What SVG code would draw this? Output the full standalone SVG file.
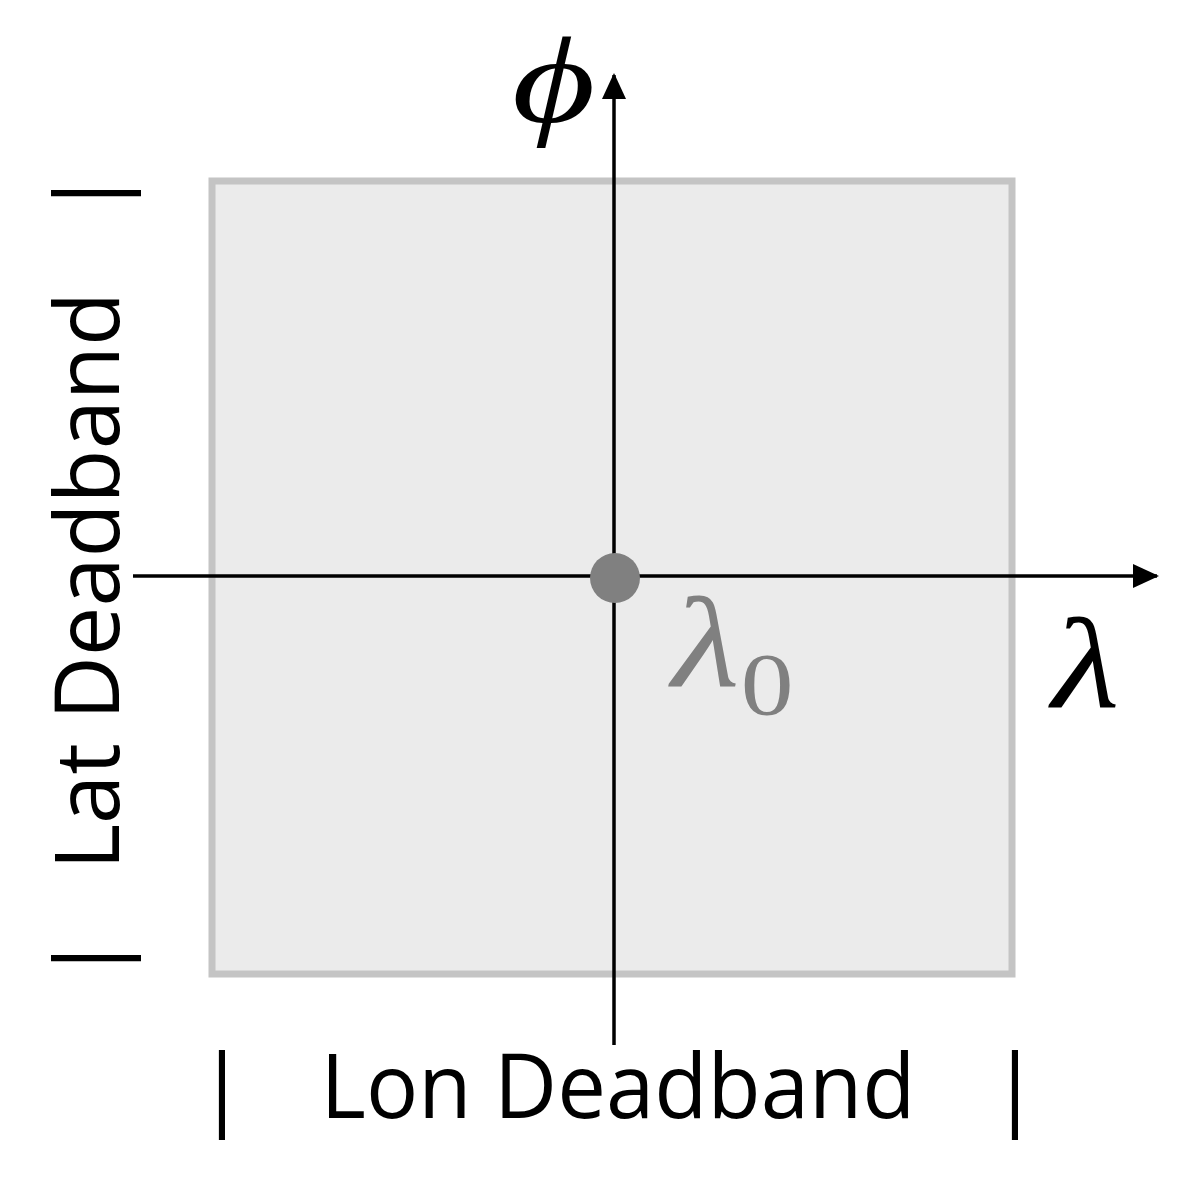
<svg xmlns="http://www.w3.org/2000/svg" width="1177" height="1180" viewBox="0 0 1177 1180">
<style>
.lbl{font-family:"Open Sans","Liberation Sans",sans-serif;font-size:90px;fill:#000}
.math{font-family:"Liberation Serif","DejaVu Serif",serif;font-style:italic}
.ax{stroke:#000;stroke-width:3.5;fill:none}
</style>
<defs>
<marker id="arr" viewBox="0 0 26 24" refX="24" refY="12" markerWidth="26" markerHeight="24" markerUnits="userSpaceOnUse" orient="auto">
<path d="M0,0 L26,12 L0,24 Z" fill="#000"/>
</marker>
</defs>
<g id="box">
<rect x="212" y="181" width="800" height="793" fill="#ebebeb" stroke="#c4c4c4" stroke-width="7"/>
</g>
<g id="connectors">
<line class="ax" x1="614" y1="1045" x2="614" y2="75" marker-end="url(#arr)"/>
<line class="ax" x1="133" y1="576" x2="1157" y2="576" marker-end="url(#arr)"/>
</g>
<g id="origin">
<circle cx="615" cy="578" r="25" fill="#808080"/>
<text class="math" transform="translate(672,687) scale(1.2,1)" font-size="130" fill="#808080">λ<tspan font-style="normal" font-size="88" dy="27" dx="1">0</tspan></text>
</g>
<g id="phi-label">
<text class="math" transform="translate(512,122) scale(1.32,1)" font-size="122">ϕ</text>
</g>
<g id="lambda-label">
<text class="math" transform="translate(1052,708) scale(1.2,1)" font-size="130">λ</text>
</g>
<g id="lon-label">
<text class="lbl" x="222" y="1118" text-anchor="middle">|</text>
<text class="lbl" x="618" y="1118" text-anchor="middle" textLength="595" lengthAdjust="spacingAndGlyphs">Lon Deadband</text>
<text class="lbl" x="1015" y="1118" text-anchor="middle">|</text>
</g>
<g id="lat-label">
<text class="lbl" transform="translate(119,193) rotate(-90)" text-anchor="middle">|</text>
<text class="lbl" transform="translate(119,581) rotate(-90)" text-anchor="middle" textLength="578" lengthAdjust="spacingAndGlyphs">Lat Deadband</text>
<text class="lbl" transform="translate(119,958) rotate(-90)" text-anchor="middle">|</text>
</g>
</svg>
